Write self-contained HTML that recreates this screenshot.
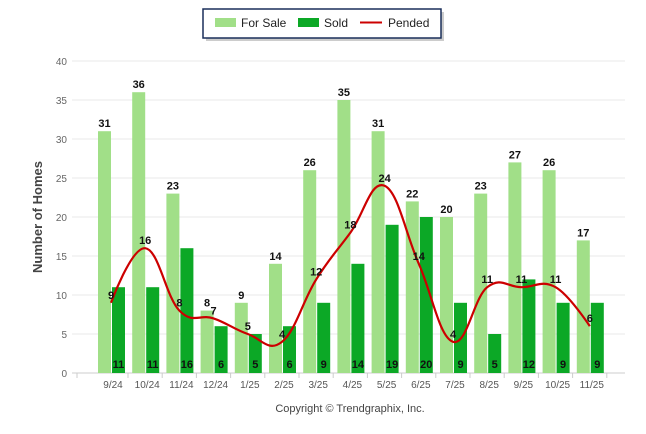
<!DOCTYPE html>
<html><head><meta charset="utf-8"><style>
body{margin:0;background:#fff;}
svg{display:block;font-family:"Liberation Sans",sans-serif;}
</style></head><body>
<svg id="s" width="646" height="434" xmlns="http://www.w3.org/2000/svg">
<rect x="206" y="12" width="238" height="29" fill="#999" opacity="0.5"/>
<rect x="203" y="9" width="238" height="29" fill="#fff" stroke="#1a2f5a" stroke-width="1.5"/>
<rect x="215" y="18" width="21" height="9" fill="#a1df88"/>
<text x="241" y="27" font-size="12" fill="#222">For Sale</text>
<rect x="298" y="18" width="21" height="9" fill="#0ca826"/>
<text x="324" y="27" font-size="12" fill="#222">Sold</text>
<line x1="360" y1="22.5" x2="382" y2="22.5" stroke="#cc0000" stroke-width="2"/>
<text x="388" y="27" font-size="12" fill="#222">Pended</text>
<text transform="translate(42,217) rotate(-90)" text-anchor="middle" font-size="13" font-weight="bold" fill="#444">Number of Homes</text>
<text x="350" y="412" text-anchor="middle" font-size="11" fill="#444">Copyright © Trendgraphix, Inc.</text>
<g id="g"></g>
</svg>
<script>
var fs=[31,36,23,8,9,14,26,35,31,22,20,23,27,26,17],so=[11,11,16,6,5,6,9,14,19,20,9,5,12,9,9],pe=[9,16,8,7,5,4,12,18,24,14,4,11,11,11,6];
var lab=["9/24","10/24","11/24","12/24","1/25","2/25","3/25","4/25","5/25","6/25","7/25","8/25","9/25","10/25","11/25"];
var y0=373,k=7.8,h='';
function Y(v){return y0-v*k;}
for(var v=0;v<=40;v+=5){h+='<line x1="72" x2="625" y1="'+Y(v)+'" y2="'+Y(v)+'" stroke="'+(v?'#e8e8e8':'#ccc')+'"/>';h+='<text x="67" y="'+(Y(v)+4)+'" text-anchor="end" font-size="10" fill="#666">'+v+'</text>';}
for(var i=0;i<15;i++){var c=111+34.2*i;
h+='<rect x="'+(c-13)+'" y="'+Y(fs[i])+'" width="13" height="'+(fs[i]*k)+'" fill="#a1df88"/>';
h+='<rect x="'+(c+1)+'" y="'+Y(so[i])+'" width="13" height="'+(so[i]*k)+'" fill="#0ca826"/>';
h+='<text x="'+(c-6.5)+'" y="'+(Y(fs[i])-4)+'" text-anchor="middle" font-size="11" font-weight="bold" fill="#111">'+fs[i]+'</text>';
h+='<text x="'+(c+7.5)+'" y="368" text-anchor="middle" font-size="11" font-weight="bold" fill="#111">'+so[i]+'</text>';
h+='<text x="'+(c+2)+'" y="388" text-anchor="middle" font-size="10" fill="#555">'+lab[i]+'</text>';
h+='<line x1="'+(c+17)+'" x2="'+(c+17)+'" y1="373" y2="378" stroke="#ccc"/>';}
h+='<line x1="77" x2="77" y1="373" y2="378" stroke="#ccc"/>';
var P=pe.map(function(v,i){return[111+34.2*i,Y(v)];}),d='M'+P[0];
var sm=1.5;
function cp(j,dir){var a=P[Math.max(j-1,0)],b=P[j],c=P[Math.min(j+1,14)];
 if(j==0||j==14)return b;
 var lx=(sm*b[0]+a[0])/(sm+1),ly=(sm*b[1]+a[1])/(sm+1),rx=(sm*b[0]+c[0])/(sm+1),ry=(sm*b[1]+c[1])/(sm+1);
 var cor=0; if(rx!=lx){cor=((ry-ly)*(rx-b[0]))/(rx-lx)+b[1]-ry;}
 ly+=cor;ry+=cor;
 return dir<0?[lx,ly]:[rx,ry];}
for(var i=0;i<14;i++){var c1=cp(i,1),c2=cp(i+1,-1);d+=' C'+c1+' '+c2+' '+P[i+1];}
h+='<path d="'+d+'" fill="none" stroke="#cc0000" stroke-width="2.2"/>';
for(var i=0;i<15;i++)h+='<text x="'+P[i][0]+'" y="'+(P[i][1]-4)+'" text-anchor="middle" font-size="11" font-weight="bold" fill="#111">'+pe[i]+'</text>';
document.getElementById('g').innerHTML=h;
</script>
</body></html>
